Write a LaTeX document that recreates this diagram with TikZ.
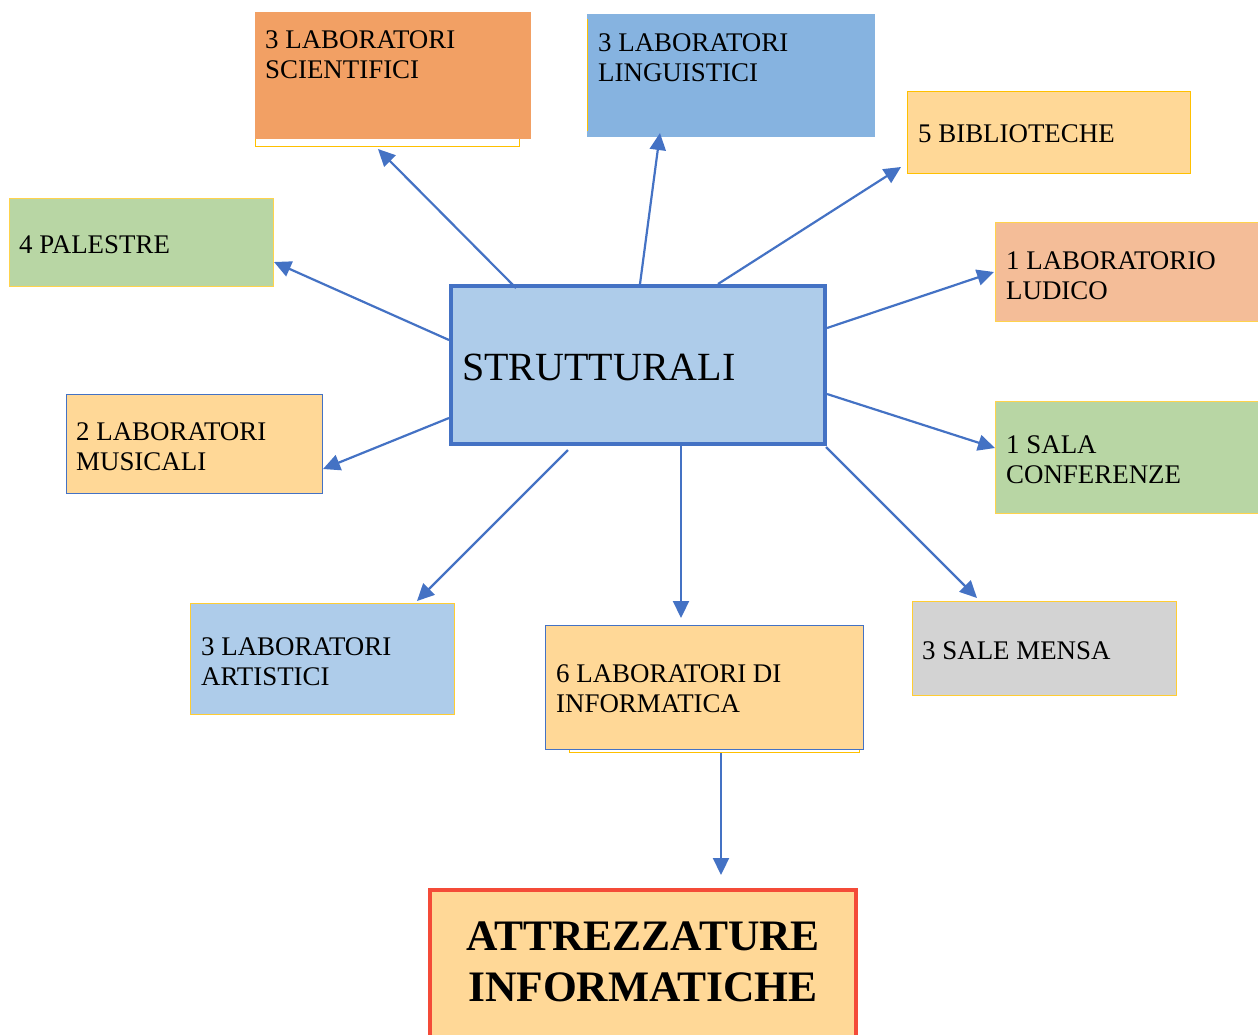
\documentclass[tikz,border=0pt]{standalone}
\usepackage{fontspec}
\setmainfont{Liberation Serif}
\usetikzlibrary{arrows.meta,calc}

\definecolor{linkblue}{HTML}{4472C4}
\definecolor{sciorange}{HTML}{F2A064}
\definecolor{lingblue}{HTML}{86B3E0}
\definecolor{paleyellow}{HTML}{FFD897}
\definecolor{sagegreen}{HTML}{B8D6A4}
\definecolor{salmon}{HTML}{F4BD98}
\definecolor{skyblue}{HTML}{AECCEA}
\definecolor{lightgray}{HTML}{D3D3D3}
\definecolor{goldline}{HTML}{FFC000}
\definecolor{redline}{HTML}{F44B38}

\tikzset{
  x=1pt, y=-1pt,
  box/.style={rectangle, anchor=north west, inner sep=0pt, outer sep=0pt,
    line width=0.8pt},
  lbl/.style={anchor=north west, inner sep=0pt, align=left,
    font=\fontsize{26.9}{30.5}\selectfont},
  arr/.style={draw=linkblue, line width=2.2pt,
    -{Triangle[length=17pt,width=16pt]}},
}

\begin{document}
\begin{tikzpicture}
\useasboundingbox (0,0) rectangle (1258,1034);
\clip (0,0) rectangle (1258,1034);

% science labs: yellow outline peeking out behind the orange box
\draw[goldline, line width=1pt] (255,14) rectangle (519,146);
\node[box, fill=sciorange, minimum width=276pt, minimum height=127pt] (sci) at (255,12) {};
\node[lbl] at (265,30) {3 LABORATORI\\SCIENTIFICI};

% language labs
\node[box, fill=lingblue, minimum width=288pt, minimum height=123pt] (ling) at (587,14) {};
\draw[goldline, line width=1pt] (587.5,19) -- (587.5,131);
\node[lbl] at (598,33) {3 LABORATORI\\LINGUISTICI};

% libraries
\node[box, fill=paleyellow, draw=goldline, minimum width=283pt, minimum height=82pt] (bib) at (907,91) {};
\node[lbl] at (918,124) {5 BIBLIOTECHE};

% gyms
\node[box, fill=sagegreen, draw=goldline!70, minimum width=264pt, minimum height=88pt] (pal) at (9,198) {};
\node[lbl] at (19,235) {4 PALESTRE};

% recreation lab
\node[box, fill=salmon, draw=goldline!70, minimum width=265pt, minimum height=99pt] (lud) at (995,222) {};
\node[lbl] at (1006,251) {1 LABORATORIO\\LUDICO};

% central box
\node[box, fill=skyblue, draw=linkblue, line width=4.5pt, minimum width=374pt, minimum height=158pt] (strut) at (451,286) {};
\node[lbl, font=\fontsize{40}{46}\selectfont] at (462,354) {STRUTTURALI};

% music labs
\node[box, fill=paleyellow, draw=linkblue, minimum width=256pt, minimum height=99pt] (mus) at (66,394) {};
\node[lbl] at (76,422) {2 LABORATORI\\MUSICALI};

% conference hall
\node[box, fill=sagegreen, draw=goldline!70, minimum width=265pt, minimum height=112pt] (conf) at (995,401) {};
\node[lbl] at (1006,435) {1 SALA\\CONFERENZE};

% art labs
\node[box, fill=skyblue, draw=goldline!80, minimum width=264pt, minimum height=111pt] (art) at (190,603) {};
\node[lbl] at (201,637) {3 LABORATORI\\ARTISTICI};

% computer labs: yellow outline peeking out below
\draw[goldline, line width=1pt] (569,630) rectangle (859,752);
\node[box, fill=paleyellow, draw=linkblue, minimum width=318pt, minimum height=124pt] (inf) at (545,625) {};
\node[lbl] at (556,664) {6 LABORATORI DI\\INFORMATICA};

% canteens
\node[box, fill=lightgray, draw=goldline!80, minimum width=264pt, minimum height=94pt] (mensa) at (912,601) {};
\node[lbl] at (922,641) {3 SALE MENSA};

% IT equipment
\node[box, fill=paleyellow, draw=redline, line width=4.5pt, minimum width=426pt, minimum height=160pt] (attr) at (430,890) {};
\node[anchor=north, inner sep=0pt, align=center,
  font=\fontsize{43.5}{51}\selectfont\bfseries] at (643,922) {ATTREZZATURE\\INFORMATICHE};

% connectors
\draw[arr] ($(strut.north west)+(65,2)$)   -- ($(sci.south west)+(123,10)$);
\draw[arr] ($(strut.north west)+(189,-2)$) -- ($(ling.south west)+(73,-4)$);
\draw[arr] ($(strut.north west)+(267,-2)$) -- ($(bib.south west)+(-6,-6)$);
\draw[arr] ($(strut.north west)+(-2,54)$)  -- ($(pal.south east)+(1,-24)$);
\draw[arr] ($(strut.north east)+(2,42)$)   -- ($(lud.north west)+(-1,50)$);
\draw[arr] ($(strut.north west)+(-2,132)$) -- ($(mus.north east)+(1,75)$);
\draw[arr] ($(strut.north east)+(2,108)$)  -- ($(conf.north west)+(0,47)$);
\draw[arr] ($(strut.south west)+(117,6)$)  -- ($(art.north west)+(227,-2)$);
\draw[arr] ($(strut.south west)+(230,2)$)  -- ($(inf.north west)+(136,-7)$);
\draw[arr] ($(strut.south east)+(1,3)$)    -- ($(mensa.north west)+(65,-3)$);
\draw[arr] ($(inf.south west)+(176,4)$)    -- ($(attr.north west)+(291,-15)$);
\end{tikzpicture}
\end{document}
